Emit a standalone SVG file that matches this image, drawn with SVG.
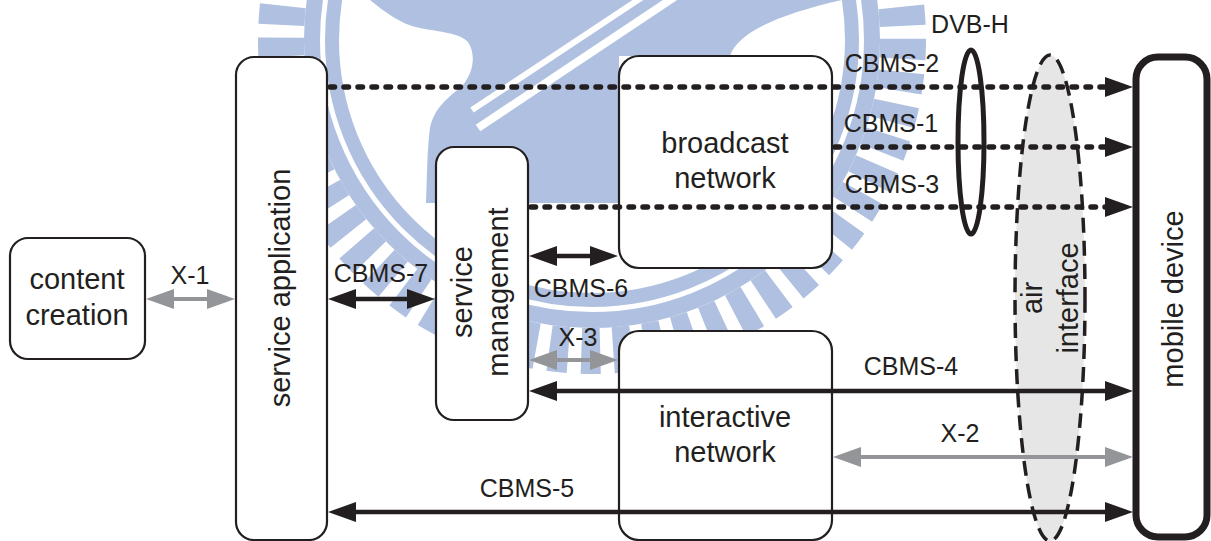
<svg xmlns="http://www.w3.org/2000/svg" width="1211" height="541" viewBox="0 0 1211 541">
  <style>
    .box { fill: #ffffff; stroke: #231f20; stroke-width: 2.2; }
    .lbl { font-family: "Liberation Sans", Arial, Helvetica, sans-serif; font-size: 29px; fill: #231f20; text-anchor: middle; }
    .tag { font-family: "Liberation Sans", Arial, Helvetica, sans-serif; font-size: 25px; fill: #231f20; text-anchor: middle; }
    .solid { fill: none; stroke: #231f20; stroke-width: 4.5; }
    .grey { fill: none; stroke: #939598; stroke-width: 4; }
    .dots { fill: none; stroke: #231f20; stroke-width: 5.5; stroke-linecap: round; stroke-dasharray: 4.5 9.5; }
    .wm { fill: none; stroke: #afc0e0; }
  </style>
  <defs>
    <marker id="ahBlack" markerUnits="userSpaceOnUse" markerWidth="28" markerHeight="20" refX="2" refY="10" orient="auto-start-reverse" overflow="visible">
      <path d="M0,0 L28,10 L0,20 Z" fill="#231f20"/>
    </marker>
    <marker id="ahGrey" markerUnits="userSpaceOnUse" markerWidth="28" markerHeight="20" refX="2" refY="10" orient="auto-start-reverse" overflow="visible">
      <path d="M0,0 L28,10 L0,20 Z" fill="#939598"/>
    </marker>
  </defs>

  <rect width="1211" height="541" fill="#ffffff"/>

  <!-- background seal -->
  <g id="seal">
    <circle class="wm" cx="592" cy="40" r="311" stroke-width="46" stroke-dasharray="19 13"/>
    <circle class="wm" cx="592" cy="40" r="280" stroke-width="16"/>
    <circle class="wm" cx="592" cy="40" r="260" stroke-width="14"/>
    <path d="M370,0 C385,12 400,24 420,28 C440,32 460,33 468,42 C476,54 474,72 462,86 C448,98 434,108 430,128 C427,150 427,180 426,203 L619,203 L619,56 L730,56 C738,32 780,14 842,0 Z" fill="#afc0e0"/>
    <path d="M472,110 L650,-8" stroke="#ffffff" stroke-width="6" fill="none"/>
    <path d="M478,128 L700,-20" stroke="#ffffff" stroke-width="8" fill="none"/>
  </g>

  <g id="content-creation">
    <rect class="box" x="10" y="238" width="135" height="121" rx="18"/>
    <text class="lbl" x="77" y="289">content</text>
    <text class="lbl" x="77" y="325">creation</text>
  </g>

  <g id="service-application">
    <rect class="box" x="236" y="57" width="91" height="483" rx="18"/>
    <text class="lbl" transform="translate(290,288) rotate(-90)">service application</text>
  </g>

  <g id="service-management">
    <rect class="box" x="436" y="147" width="92" height="273" rx="18"/>
    <text class="lbl" transform="translate(472,292) rotate(-90)">service</text>
    <text class="lbl" transform="translate(508,292) rotate(-90)">management</text>
  </g>

  <g id="broadcast-network">
    <rect class="box" x="619" y="56" width="213" height="212" rx="20"/>
    <text class="lbl" x="725" y="153">broadcast</text>
    <text class="lbl" x="725" y="188">network</text>
  </g>

  <g id="interactive-network">
    <rect class="box" x="619" y="331" width="213" height="209" rx="20"/>
    <text class="lbl" x="725" y="427">interactive</text>
    <text class="lbl" x="725" y="462">network</text>
  </g>

  <g id="air-interface">
    <ellipse cx="1050" cy="298" rx="35" ry="243" fill="#e6e6e6" stroke="#231f20" stroke-width="3.5" stroke-dasharray="15 8"/>
    <text class="lbl" transform="translate(1042,298) rotate(-90)">air</text>
    <text class="lbl" transform="translate(1078,298) rotate(-90)">interface</text>
  </g>

  <g id="mobile-device">
    <rect x="1136" y="57" width="71" height="480" rx="22" fill="#ffffff" stroke="#231f20" stroke-width="7"/>
    <text class="lbl" transform="translate(1183,299) rotate(-90)">mobile device</text>
  </g>

  <g id="connectors">
    <!-- broadcast bearers (dotted, one-way) -->
    <line class="dots" x1="330" y1="87" x2="1107" y2="87" marker-end="url(#ahBlack)"/>
    <line class="dots" x1="835" y1="147" x2="1107" y2="147" marker-end="url(#ahBlack)"/>
    <line class="dots" x1="531" y1="207" x2="1107" y2="207" marker-end="url(#ahBlack)"/>
    <text class="tag" x="892" y="72">CBMS-2</text>
    <text class="tag" x="891" y="132">CBMS-1</text>
    <text class="tag" x="892" y="193">CBMS-3</text>

    <!-- X-1 -->
    <line class="grey" x1="172" y1="299" x2="209" y2="299" marker-start="url(#ahGrey)" marker-end="url(#ahGrey)"/>
    <text class="tag" x="190" y="284">X-1</text>

    <!-- CBMS-7 -->
    <line class="solid" x1="354" y1="299" x2="409" y2="299" marker-start="url(#ahBlack)" marker-end="url(#ahBlack)"/>
    <text class="tag" x="381" y="282">CBMS-7</text>

    <!-- CBMS-6 -->
    <line class="solid" x1="555" y1="256" x2="592" y2="256" marker-start="url(#ahBlack)" marker-end="url(#ahBlack)"/>
    <text class="tag" x="581" y="297">CBMS-6</text>

    <!-- X-3 -->
    <line class="grey" x1="555" y1="360" x2="592" y2="360" marker-start="url(#ahGrey)" marker-end="url(#ahGrey)"/>
    <text class="tag" x="578" y="346">X-3</text>

    <!-- CBMS-4 -->
    <line class="solid" x1="555" y1="391" x2="1107" y2="391" marker-start="url(#ahBlack)" marker-end="url(#ahBlack)"/>
    <text class="tag" x="911" y="375">CBMS-4</text>

    <!-- X-2 -->
    <line class="grey" x1="859" y1="457" x2="1107" y2="457" marker-start="url(#ahGrey)" marker-end="url(#ahGrey)"/>
    <text class="tag" x="960" y="442">X-2</text>

    <!-- CBMS-5 -->
    <line class="solid" x1="354" y1="512" x2="1107" y2="512" marker-start="url(#ahBlack)" marker-end="url(#ahBlack)"/>
    <text class="tag" x="527" y="497">CBMS-5</text>
  </g>

  <g id="dvb-h">
    <ellipse cx="971" cy="142" rx="13" ry="92" fill="none" stroke="#231f20" stroke-width="5"/>
    <text class="tag" x="970" y="33">DVB-H</text>
  </g>
</svg>
